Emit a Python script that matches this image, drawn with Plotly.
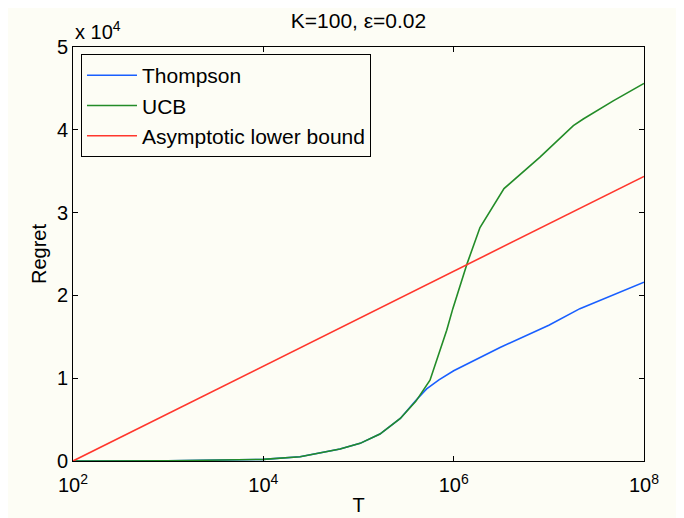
import plotly.graph_objects as go

# ---- data ----
T_ts = [1e2, 1e3, 1e4, 2.43e4, 6.4e4, 1.04e5, 1.68e5, 2.75e5, 4e5, 5.2e5, 7e5,
        1e6, 3.07e6, 1e7, 2.12e7, 1e8]
thompson = [0, 30, 200, 520, 1450, 2130, 3250, 5140, 7300, 8700, 9800,
            10900, 13700, 16400, 18400, 21600]

T_ucb = [1e2, 1e3, 1e4, 2.43e4, 6.4e4, 1.04e5, 1.68e5, 2.75e5, 4e5, 5.64e5,
         8.45e5, 9.8e5, 1.39e6, 1.89e6, 3.38e6, 5.4e6, 8.07e6, 1.81e7,
         2.3e7, 4.75e7, 1e8]
ucb = [0, 30, 200, 520, 1450, 2130, 3250, 5140, 7200, 9760,
       15800, 18400, 23900, 28200, 32900, 34900, 36700, 40500,
       41300, 43500, 45600]

T_lb = [1e2, 1e3, 1e4, 1e5, 1e6, 1e7, 1e8]
lower_bound = [0, 5730, 11460, 17190, 22910, 28640, 34370]

x_tickvals = [1e2, 1e4, 1e6, 1e8]
x_ticktext = ["10<sup>2</sup>", "10<sup>4</sup>", "10<sup>6</sup>", "10<sup>8</sup>"]
y_tickvals = [0, 1e4, 2e4, 3e4, 4e4, 5e4]
y_ticktext = ["0", "1", "2", "3", "4", "5"]

BG = "rgb(253,253,245)"
FONT = "Liberation Sans, Arial, Helvetica, sans-serif"

fig = go.Figure()
fig.add_trace(go.Scatter(x=T_ts, y=thompson, mode="lines", name="Thompson",
                         line=dict(color="rgb(25,95,255)", width=1.6)))
fig.add_trace(go.Scatter(x=T_ucb, y=ucb, mode="lines", name="UCB",
                         line=dict(color="rgb(35,140,40)", width=1.6)))
fig.add_trace(go.Scatter(x=T_lb, y=lower_bound, mode="lines",
                         name="Asymptotic lower bound",
                         line=dict(color="rgb(255,55,45)", width=1.6)))

fig.update_layout(
    width=684, height=518,
    margin=dict(l=65, r=48, t=39, b=65),
    paper_bgcolor=BG, plot_bgcolor=BG,
    font=dict(family=FONT, size=20, color="black"),
    title=dict(text="K=100, ε=0.02", x=0.5, xref="paper", xanchor="center",
               y=1 - 13 / 518, yref="container", yanchor="middle",
               font=dict(size=21, color="black")),
    showlegend=True,
    legend=dict(x=0.014, y=0.983, xanchor="left", yanchor="top",
                bgcolor=BG, bordercolor="black", borderwidth=1,
                font=dict(size=21), itemwidth=50, tracegroupgap=0),
    xaxis=dict(type="log", range=[2, 8], tickvals=x_tickvals, ticktext=x_ticktext,
               showgrid=False, zeroline=False, showline=True, linecolor="black",
               linewidth=1, mirror="ticks", ticks="inside", ticklen=5,
               tickcolor="black", tickfont=dict(size=20), ticklabelstandoff=6,
               title=dict(text="T", font=dict(size=20), standoff=2)),
    yaxis=dict(range=[0, 5e4], tickvals=y_tickvals, ticktext=y_ticktext,
               showgrid=False, zeroline=False, showline=True, linecolor="black",
               linewidth=1, mirror="ticks", ticks="inside", ticklen=5,
               tickcolor="black", tickfont=dict(size=20),
               title=dict(text="Regret", font=dict(size=20), standoff=4)),
)

fig.add_annotation(text="x 10<sup>4</sup>", xref="paper", yref="paper",
                   x=0, y=1, xanchor="left", yanchor="bottom", yshift=2,
                   showarrow=False, font=dict(size=20, color="black"))

fig.write_html("out.html")
